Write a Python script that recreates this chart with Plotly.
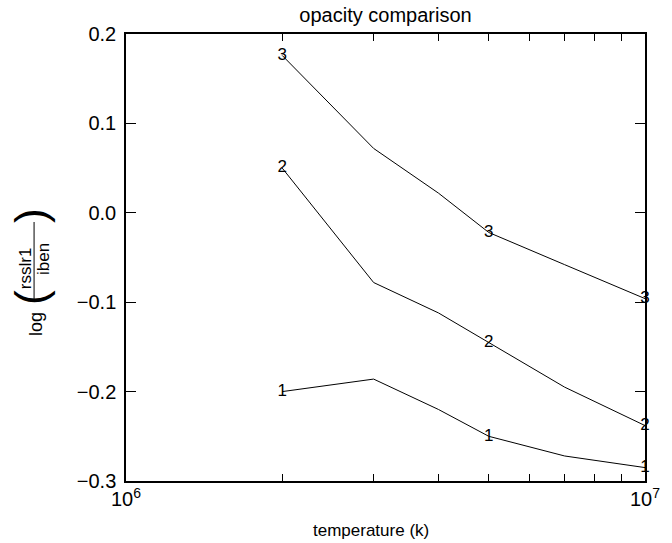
import plotly.graph_objects as go

# Data
temperature = [2e6, 3e6, 4e6, 5e6, 7e6, 1e7]
curve1 = [-0.200, -0.186, -0.220, -0.250, -0.272, -0.285]
curve2 = [0.050, -0.078, -0.112, -0.145, -0.195, -0.238]
curve3 = [0.176, 0.072, 0.022, -0.022, -0.058, -0.096]
curve_names = ["1", "2", "3"]
label_idx = [0, 3, 5]

y_ticks = [-0.3, -0.2, -0.1, 0.0, 0.1, 0.2]
y_ticktext = ["\u22120.3", "\u22120.2", "\u22120.1", "0.0", "0.1", "0.2"]
x_range_log = [6, 7]
y_range = [-0.3, 0.2]

FONT = "Liberation Sans, Arial, sans-serif"

fig = go.Figure()
for name, ys in zip(curve_names, [curve1, curve2, curve3]):
    fig.add_trace(go.Scatter(
        x=temperature, y=ys, mode="lines",
        line=dict(color="black", width=1), showlegend=False,
    ))
    fig.add_trace(go.Scatter(
        x=[temperature[i] for i in label_idx], y=[ys[i] for i in label_idx],
        mode="text", text=[name] * len(label_idx),
        textposition="middle center",
        textfont=dict(family=FONT, size=17, color="black"),
        showlegend=False, cliponaxis=False,
        xaxis="x2", yaxis="y2",
    ))

W, H = 672, 543
L, R, T, B = 126, 21, 34, 62
pw, ph = W - L - R, H - T - B

def px(xp):
    return (xp - L) / pw

def py(yp):
    return (H - B - yp) / ph

annotations = [
    dict(text="temperature (k)", x=px(374), y=py(530), xref="paper", yref="paper",
         showarrow=False, font=dict(family=FONT, size=17, color="black"),
         xanchor="center", yanchor="middle"),
    dict(text="log", x=px(35), y=py(324), xref="paper", yref="paper", textangle=-90,
         showarrow=False, font=dict(family=FONT, size=18, color="black"),
         xanchor="center", yanchor="middle"),
    dict(text="(", x=px(29), y=py(298), xref="paper", yref="paper", textangle=-90,
         showarrow=False, font=dict(family=FONT, size=44, color="black"),
         xanchor="center", yanchor="middle"),
    dict(text=")", x=px(29), y=py(216), xref="paper", yref="paper", textangle=-90,
         showarrow=False, font=dict(family=FONT, size=44, color="black"),
         xanchor="center", yanchor="middle"),
    dict(text="rsslr1", x=px(24), y=py(268), xref="paper", yref="paper", textangle=-90,
         showarrow=False, font=dict(family=FONT, size=17, color="black"),
         xanchor="center", yanchor="middle"),
    dict(text="iben", x=px(42), y=py(259), xref="paper", yref="paper", textangle=-90,
         showarrow=False, font=dict(family=FONT, size=17, color="black"),
         xanchor="center", yanchor="middle"),
]

shapes = [
    dict(type="line", xref="paper", yref="paper", x0=px(33), x1=px(33),
         y0=py(222), y1=py(300), line=dict(color="black", width=1)),
]

def xaxis_style():
    return dict(
        type="log", range=x_range_log, tickmode="linear", tick0=0, dtick=1,
        ticks="inside", ticklen=7, tickcolor="black", tickwidth=1,
        showgrid=False, zeroline=False,
        showline=True, linecolor="black", linewidth=1.5, mirror="ticks",
        minor=dict(dtick="D1", ticks="inside", ticklen=7, tickcolor="black",
                   tickwidth=1, showgrid=False),
    )

def yaxis_style():
    return dict(
        range=y_range, tickvals=y_ticks,
        ticks="inside", ticklen=10, tickcolor="black", tickwidth=1,
        showgrid=False, zeroline=False,
        showline=True, linecolor="black", linewidth=1.5, mirror="ticks",
    )

fig.update_layout(
    width=W, height=H,
    margin=dict(l=L, r=R, t=T, b=B),
    paper_bgcolor="white", plot_bgcolor="rgba(0,0,0,0)",
    title=dict(text="opacity comparison", x=0.5, xref="paper", xanchor="center",
               y=1 - 15 / H, yref="container", yanchor="middle",
               font=dict(family=FONT, size=20, color="black")),
    annotations=annotations, shapes=shapes,
    font=dict(family=FONT, color="black"),
    xaxis=dict(**xaxis_style(), exponentformat="power", showexponent="all",
               tickfont=dict(family=FONT, size=16, color="black")),
    yaxis=dict(**yaxis_style(), ticktext=y_ticktext,
               tickfont=dict(family=FONT, size=20, color="black"),
               ticklabelstandoff=4),
    xaxis2=dict(**xaxis_style(), overlaying="x", side="top", showticklabels=False),
    yaxis2=dict(**yaxis_style(), overlaying="y", side="right", showticklabels=False),
)

fig.write_html("out.html")
